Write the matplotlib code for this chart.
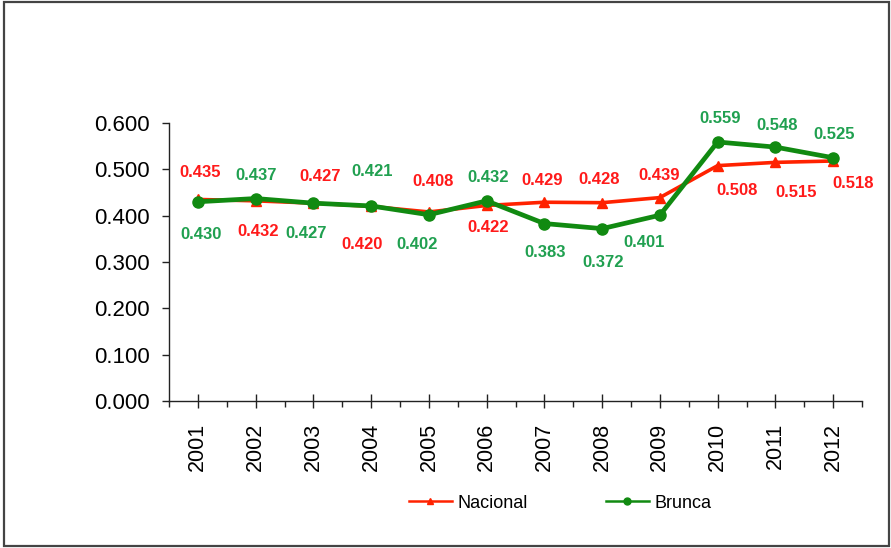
import matplotlib
matplotlib.use("Agg")
import matplotlib.pyplot as plt
from matplotlib.patches import Rectangle
from matplotlib.lines import Line2D
from matplotlib.ticker import MultipleLocator, FixedLocator

plt.rcParams['font.family'] = ['Liberation Sans', 'DejaVu Sans']

years = ['2001', '2002', '2003', '2004', '2005', '2006', '2007', '2008', '2009', '2010', '2011', '2012']
nacional = [0.435, 0.432, 0.427, 0.420, 0.408, 0.422, 0.429, 0.428, 0.439, 0.508, 0.515, 0.518]
brunca = [0.430, 0.437, 0.427, 0.421, 0.402, 0.432, 0.383, 0.372, 0.401, 0.559, 0.548, 0.525]

# label offsets in pixels (dx right, dy down on screen)
nac_off = [(2, -27), (2, 31), (7, -27), (-9, 38), (4, -30), (1, 22), (-2, -22), (-3, -23),
           (-1, -22), (19, 25), (21, 30), (20, 23)]
bru_off = [(3, 33), (1, -23), (-7, 30), (1, -34), (-12, 30), (1, -23), (1, 29), (1, 34),
           (-16, 27), (2, -23), (2, -22), (1, -23)]

red_line = '#ff2200'
green_line = '#118a11'
red_txt = '#ff1a1a'
green_txt = '#20a050'

fig = plt.figure(figsize=(8.91, 5.48), dpi=100)
ax = fig.add_axes([169/891, 1-401/548, (862-169)/891, (401-123)/548])

x = list(range(len(years)))
ax.plot(x, nacional, color=red_line, lw=2.6, marker='^', ms=7, zorder=3)
ax.plot(x, brunca, color=green_line, lw=3.4, marker='o', ms=8, zorder=4)

for i, v in enumerate(nacional):
    dx, dy = nac_off[i]
    ax.annotate(f'{v:.3f}', (i, v), xytext=(dx, -dy), textcoords='offset pixels',
                ha='center', va='center', color=red_txt, fontsize=12, fontweight='bold')
for i, v in enumerate(brunca):
    dx, dy = bru_off[i]
    ax.annotate(f'{v:.3f}', (i, v), xytext=(dx, -dy), textcoords='offset pixels',
                ha='center', va='center', color=green_txt, fontsize=12, fontweight='bold')

ax.set_xlim(-0.5, len(years) - 0.5)
ax.set_ylim(0, 0.6)
ax.yaxis.set_major_locator(MultipleLocator(0.1))
ax.set_yticklabels([f'{t:.3f}' for t in ax.get_yticks()])
ax.set_xticks(x)
ax.set_xticklabels(years, rotation=90)
ax.xaxis.set_minor_locator(FixedLocator([i + 0.5 for i in range(-1, len(years))]))

for s in ['top', 'right']:
    ax.spines[s].set_visible(False)
for s in ['left', 'bottom']:
    ax.spines[s].set_color('#222222')
    ax.spines[s].set_linewidth(1.0)

ax.tick_params(axis='y', which='major', direction='out', length=5, width=1, pad=9,
               labelsize=16, colors='#222222', labelcolor='black')
ax.tick_params(axis='x', which='major', direction='inout', length=10, width=1, pad=11,
               labelsize=15.5, colors='#222222', labelcolor='black')
ax.tick_params(axis='x', which='minor', direction='out', length=4, width=1, colors='#222222')

handles = [Line2D([], [], color=red_line, lw=1.8, marker='^', ms=5),
           Line2D([], [], color=green_line, lw=1.8, marker='o', ms=5)]
leg = fig.legend(handles, ['Nacional', 'Brunca'], loc='center',
                 bbox_to_anchor=(560/891, 1-503/548), ncol=2, frameon=False,
                 fontsize=13, handlelength=2.4, columnspacing=4.3, handletextpad=0.3)

fig.patches.append(Rectangle((4/891, 2/548), 885/891, 544/548, transform=fig.transFigure,
                             fill=False, edgecolor='#444444', lw=1.6))

fig.savefig('out.png', dpi=100)
